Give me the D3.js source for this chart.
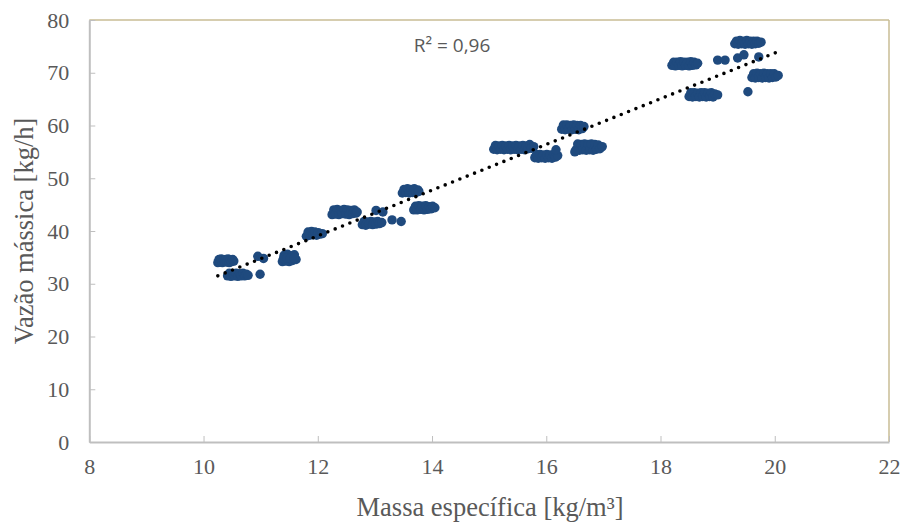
<!DOCTYPE html>
<html lang="pt">

<head>
    <meta charset="UTF-8">
    <title>Vazão mássica x Massa específica</title>
    <script src="https://d3js.org/d3.v7.min.js"></script>
    <style>
        body {
            margin: 0;
            background: #fff;
        }

        .tick-label {
            font-family: "Liberation Serif", "Times New Roman", serif;
            font-size: 22px;
            fill: #595959;
        }

        .axis-title {
            font-family: "Liberation Serif", "Times New Roman", serif;
            font-size: 26.5px;
            fill: #595959;
        }
    </style>
</head>

<body>

    <svg width="906" height="523"></svg>

    <script>
        // measured points, read off the reference (x = massa específica, y = vazão mássica)
        // one line per cluster, same order in both arrays
        const massa = [
            10.25, 10.27, 10.29, 10.31, 10.33, 10.35, 10.37, 10.39, 10.41, 10.43, 10.45, 10.47, 10.49, 10.51, 10.53,
            10.42, 10.45, 10.48, 10.51, 10.54, 10.57, 10.60, 10.63, 10.66, 10.69, 10.72, 10.75, 10.78,
            10.99, 10.95, 11.05,
            11.38, 11.41, 11.44, 11.47, 11.50, 11.53, 11.56, 11.59, 11.62, 11.40, 11.46, 11.52, 11.58,
            11.80, 11.83, 11.86, 11.89, 11.92, 11.95, 11.98, 12.01, 12.04, 12.08,
            12.25, 12.28, 12.31, 12.34, 12.37, 12.40, 12.43, 12.46, 12.49, 12.52, 12.55, 12.58, 12.61, 12.64, 12.67, 12.69,
            12.78, 12.81, 12.84, 12.87, 12.90, 12.93, 12.96, 12.99, 13.02, 13.05, 13.08, 13.12,
            13.02, 13.14, 13.30, 13.46,
            13.48, 13.51, 13.54, 13.57, 13.60, 13.63, 13.66, 13.69, 13.72, 13.75, 13.77,
            13.68, 13.71, 13.74, 13.77, 13.80, 13.83, 13.86, 13.89, 13.92, 13.95, 13.98, 14.01, 14.05,
            15.08, 15.11, 15.14, 15.17, 15.20, 15.23, 15.26, 15.29, 15.32, 15.35, 15.38, 15.41,
            15.44, 15.47, 15.50, 15.53, 15.56, 15.59, 15.62, 15.65, 15.68, 15.71, 15.74, 15.78,
            15.80, 15.83, 15.86, 15.89, 15.92, 15.95, 15.98, 16.01, 16.04, 16.07, 16.10, 16.13, 16.16, 16.20, 16.17,
            16.27, 16.30, 16.33, 16.36, 16.39, 16.42, 16.45, 16.48, 16.51, 16.54, 16.57, 16.60, 16.63, 16.66,
            16.52, 16.55, 16.58, 16.61, 16.64, 16.67, 16.70, 16.73, 16.76, 16.79, 16.82, 16.85, 16.88, 16.91, 16.94, 16.98, 16.50,
            18.20, 18.23, 18.26, 18.29, 18.32, 18.35, 18.38, 18.41, 18.44, 18.47, 18.50, 18.53, 18.56, 18.59, 18.62, 18.65,
            18.50, 18.53, 18.56, 18.59, 18.62, 18.65, 18.68, 18.71, 18.74, 18.77, 18.80, 18.83, 18.86, 18.89, 18.92, 18.95, 19.00,
            19.00, 19.13,
            19.30, 19.33, 19.36, 19.39, 19.42, 19.45, 19.48, 19.51, 19.54, 19.57, 19.60, 19.63, 19.66, 19.69, 19.72, 19.76,
            19.35, 19.46, 19.72,
            19.60, 19.63, 19.66, 19.69, 19.72, 19.75, 19.78, 19.81, 19.84, 19.87, 19.90, 19.93, 19.96, 19.99, 20.02, 20.06,
            19.53
        ];
        const vazao = [
            34.0, 34.6, 34.1, 34.7, 34.0, 34.5, 34.2, 34.6, 34.1, 34.7, 34.0, 34.5, 34.2, 34.6, 34.3,
            31.5, 32.0, 31.4, 31.9, 31.5, 32.0, 31.4, 31.9, 31.5, 32.0, 31.5, 31.8, 31.6,
            31.8, 35.2, 34.8,
            34.2, 35.4, 34.3, 35.6, 34.2, 35.3, 34.4, 35.5, 34.6, 34.8, 34.9, 34.8, 34.9,
            39.0, 39.8, 39.2, 39.9, 39.3, 39.8, 39.2, 39.7, 39.4, 39.5,
            43.1, 44.0, 43.2, 44.1, 43.1, 43.9, 43.3, 44.1, 43.2, 44.0, 43.1, 43.9, 43.3, 44.0, 43.4, 43.6,
            41.2, 41.8, 41.1, 41.7, 41.3, 41.8, 41.2, 41.7, 41.3, 41.8, 41.4, 41.6,
            43.9, 43.6, 42.1, 41.8,
            47.2, 47.9, 47.3, 48.0, 47.2, 47.9, 47.3, 48.0, 47.3, 47.8, 47.5,
            44.0, 44.7, 44.0, 44.8, 44.1, 44.7, 44.0, 44.8, 44.1, 44.6, 44.2, 44.7, 44.4,
            55.5, 56.2, 55.4, 56.1, 55.5, 56.2, 55.4, 56.1, 55.5, 56.2, 55.4, 56.1,
            55.5, 56.2, 55.4, 56.1, 55.5, 56.2, 55.4, 56.1, 55.6, 56.4, 55.7, 56.0,
            53.9, 54.5, 53.8, 54.5, 53.9, 54.4, 53.8, 54.5, 53.9, 54.4, 53.8, 54.5, 54.0, 54.3, 55.4,
            59.3, 60.1, 59.2, 60.1, 59.3, 60.0, 59.2, 60.1, 59.3, 60.0, 59.2, 60.0, 59.4, 59.8,
            55.4, 56.5, 55.3, 56.4, 55.4, 56.5, 55.3, 56.4, 55.4, 56.5, 55.3, 56.4, 55.5, 56.3, 55.6, 56.0, 55.0,
            71.4, 72.0, 71.3, 72.0, 71.4, 72.1, 71.3, 72.0, 71.4, 72.0, 71.3, 72.1, 71.4, 72.0, 71.5, 71.8,
            65.5, 66.2, 65.4, 66.2, 65.5, 66.1, 65.4, 66.2, 65.5, 66.2, 65.4, 66.1, 65.5, 66.2, 65.4, 66.0, 65.8,
            72.4, 72.4,
            75.5, 76.0, 75.4, 76.1, 75.5, 76.0, 75.4, 76.1, 75.5, 76.0, 75.4, 76.0, 75.5, 76.0, 75.6, 75.8,
            72.8, 73.4, 73.0,
            69.1, 69.8, 69.0, 69.9, 69.1, 69.8, 69.0, 69.9, 69.1, 69.8, 69.0, 69.8, 69.1, 69.8, 69.2, 69.5,
            66.4
        ];

        const xTicks = [8, 10, 12, 14, 16, 18, 20, 22];
        const yTicks = [0, 10, 20, 30, 40, 50, 60, 70, 80];
        const r2Label = "R² = 0,96";

        const svg = d3.select("svg");
        const pLeft = 89.3, pRight = 889, pTop = 20, pBottom = 442;

        const x = d3.scaleLinear().domain([8, 22]).range([pLeft, pRight]);
        const y = d3.scaleLinear().domain([0, 80]).range([pBottom, pTop]);

        // plot area frame (top / right in tan, axes in gray)
        svg.append("line").attr("x1", pLeft).attr("x2", pRight).attr("y1", pTop).attr("y2", pTop)
            .attr("stroke", "#c9bd95").attr("stroke-width", 1.5);
        svg.append("line").attr("x1", pRight).attr("x2", pRight).attr("y1", pTop).attr("y2", pBottom)
            .attr("stroke", "#c9bd95").attr("stroke-width", 1.5);

        const xAxis = svg.append("g").attr("transform", `translate(0,${pBottom})`)
            .call(d3.axisBottom(x).tickValues(xTicks).tickSizeInner(-6).tickSizeOuter(0).tickPadding(13));
        const yAxis = svg.append("g").attr("transform", `translate(${pLeft},0)`)
            .call(d3.axisLeft(y).tickValues(yTicks).tickSizeInner(-6).tickSizeOuter(0).tickPadding(20));

        [xAxis, yAxis].forEach(g => {
            g.select(".domain").attr("stroke", "#bfbfbf").attr("stroke-width", 2);
            g.selectAll(".tick line").attr("stroke", "#bfbfbf").attr("stroke-width", 1);
            g.selectAll(".tick text").attr("class", "tick-label").attr("fill", null);
        });
        xAxis.selectAll(".tick text").attr("dy", "0.85em");

        // points
        const pts = massa.map((m, i) => [m, vazao[i]]);
        svg.append("g").selectAll("circle")
            .data(pts)
            .enter().append("circle")
            .attr("cx", d => x(d[0]))
            .attr("cy", d => y(d[1]))
            .attr("r", 4.7)
            .attr("fill", "#1f4a7e");

        // linear trendline (least squares)
        const mx = d3.mean(massa), my = d3.mean(vazao);
        const slope = d3.sum(pts, d => (d[0] - mx) * (d[1] - my)) / d3.sum(pts, d => (d[0] - mx) ** 2);
        const icpt = my - slope * mx;
        const [x0, x1] = d3.extent(massa);
        svg.append("line")
            .attr("x1", x(x0)).attr("y1", y(slope * x0 + icpt))
            .attr("x2", x(x1)).attr("y2", y(slope * x1 + icpt))
            .attr("stroke", "#000")
            .attr("stroke-width", 3.6)
            .attr("stroke-linecap", "round")
            .attr("stroke-dasharray", "0 7.9");

        svg.append("text")
            .attr("x", 452).attr("y", 52)
            .attr("text-anchor", "middle")
            .style("font-family", "'Open Sans', 'Liberation Sans', sans-serif")
            .style("font-size", "19px")
            .attr("fill", "#595959")
            .text(r2Label);

        // axis titles
        svg.append("text").attr("class", "axis-title")
            .attr("x", 490).attr("y", 516)
            .attr("text-anchor", "middle")
            .text("Massa específica [kg/m³]");
        svg.append("text").attr("class", "axis-title")
            .attr("transform", `translate(33,${(pTop + pBottom) / 2}) rotate(-90)`)
            .attr("text-anchor", "middle")
            .text("Vazão mássica [kg/h]");
    </script>

</body>

</html>
